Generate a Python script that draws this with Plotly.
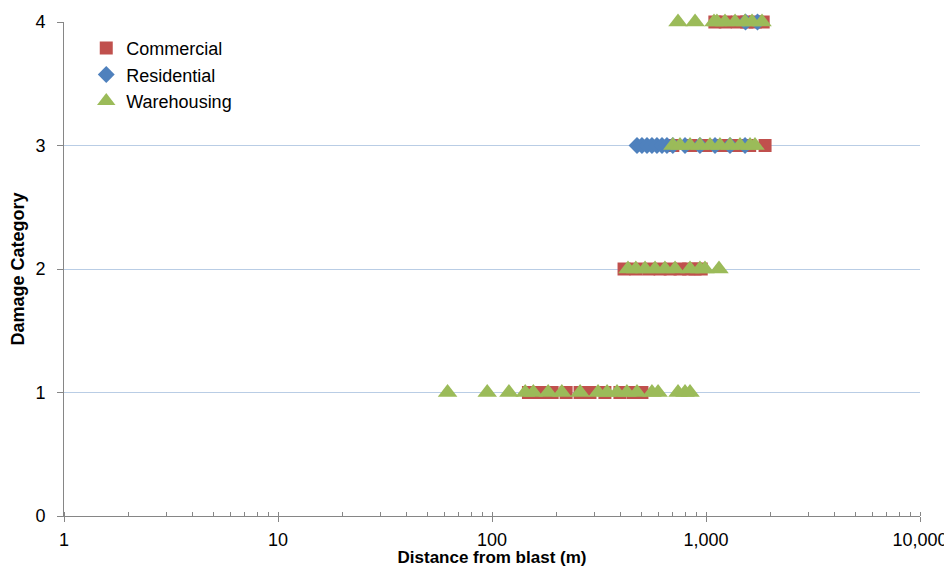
import plotly.graph_objects as go

# Commercial
com_x = [148, 168, 191, 222, 258, 287, 337, 396, 456, 502,
         414, 470, 540, 610, 680, 756, 830, 889, 950,
         700, 850, 1000, 1162, 1300, 1442, 1600, 1888,
         1100, 1230, 1400, 1550, 1700, 1850]
com_y = [1]*10 + [2]*9 + [3]*8 + [4]*6

# Residential
res_x = [476, 502, 530, 559, 590, 623, 657, 700, 798, 937, 1102, 1295, 1522,
         1530, 1740]
res_y = [3]*13 + [4]*2

# Warehousing
war_x = [62, 95, 120, 143, 156, 183, 212, 258, 313, 345, 384, 427, 476, 559, 597, 740, 798, 842,
         432, 470, 519, 578, 643, 717, 842, 937, 989, 1150,
         700, 756, 842, 937, 1044, 1162, 1295, 1442, 1606, 1694,
         740, 889, 1090, 1125, 1227, 1367, 1522, 1641, 1827]
war_y = [1]*18 + [2]*10 + [3]*10 + [4]*9

x_tickvals = [1, 10, 100, 1000, 10000]
x_ticktext = ["1", "10", "100", "1,000", "10,000"]
y_tickvals = [0, 1, 2, 3, 4]

fig = go.Figure()
fig.add_trace(go.Scatter(x=com_x, y=com_y, mode="markers", name="Commercial",
                         marker=dict(symbol="square", size=13, color="#C0504D"),
                         cliponaxis=False))
fig.add_trace(go.Scatter(x=res_x, y=res_y, mode="markers", name="Residential",
                         marker=dict(symbol="diamond", size=13, color="#4F81BD"),
                         cliponaxis=False))
fig.add_trace(go.Scatter(x=war_x, y=war_y, mode="markers", name="Warehousing",
                         marker=dict(symbol="triangle-up", size=17, color="#9BBB59"),
                         cliponaxis=False))

fig.update_layout(
    width=944, height=559,
    margin=dict(l=56, r=32, t=14, b=51, autoexpand=False),
    paper_bgcolor="white", plot_bgcolor="white",
    font=dict(family="Liberation Sans, Arial, sans-serif", size=18, color="#000000"),
    showlegend=True,
    legend=dict(x=0.026, y=0.984,
                xanchor="left", yanchor="top",
                bgcolor="rgba(0,0,0,0)", font=dict(size=18),
                itemwidth=30, tracegroupgap=0),
    xaxis=dict(type="log", range=[0, 4], tickvals=x_tickvals, ticktext=x_ticktext,
               showgrid=False, showline=True, linecolor="#868686", linewidth=1,
               ticks="outside", ticklen=5, tickcolor="#868686",
               minor=dict(ticks="inside", ticklen=4, tickcolor="#868686",
                          showgrid=False, dtick="D1"),
               tickfont=dict(size=18), automargin=False, ticklabelstandoff=2,
               title=dict(text="<b>Distance from blast (m)</b>", font=dict(size=17), standoff=0),
               zeroline=False),
    yaxis=dict(range=[0, 4], tickvals=y_tickvals, showgrid=True, gridcolor="#B9CDE5",
               showline=True, linecolor="#868686", linewidth=1,
               ticks="outside", ticklen=6, tickcolor="#868686",
               tickfont=dict(size=18), automargin=False, ticklabelstandoff=8,
               title=dict(text="<b>Damage Category</b>", font=dict(size=18), standoff=6),
               zeroline=False),
)

fig.write_html("out.html")
